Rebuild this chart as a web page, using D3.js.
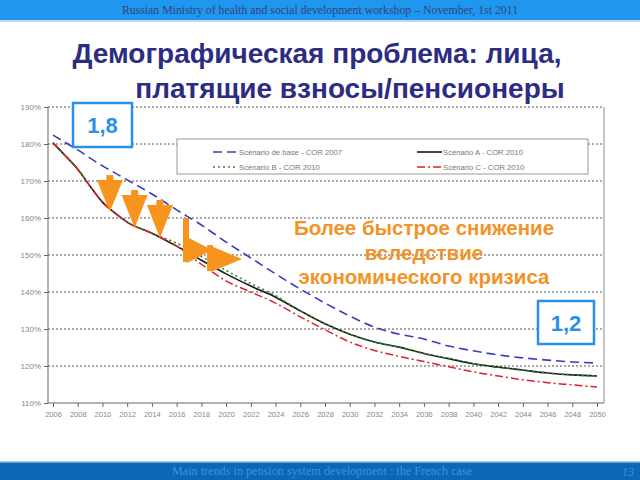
<!DOCTYPE html>
<html><head><meta charset="utf-8">
<script src="https://cdn.jsdelivr.net/npm/d3@7"></script>
<style>body{margin:0;background:#fff}svg{display:block}</style>
</head><body>
<script>
const years = [2006,2007,2008,2009,2010,2011,2012,2014,2016,2018,2020,2022,2024,2026,2028,2030,2032,2034,2036,2038,2040,2042,2044,2046,2048,2050];
const baseCOR2007 = [182.4,180.4,178.4,176.2,174.1,172.2,170.3,166.5,162.2,158.1,153.5,149.2,144.9,140.8,137.0,133.5,130.5,128.6,127.3,125.4,124.1,123.0,122.2,121.6,121.1,120.8];
const scenA = [180.3,176.8,173.2,168.6,164.3,161.4,158.9,155.9,152.4,148.6,144.9,141.6,138.6,134.9,131.4,128.6,126.5,125.1,123.4,122.0,120.6,119.7,118.9,118.1,117.6,117.3];
const scenB = [180.3,176.8,173.2,168.6,164.3,161.4,158.9,155.9,153.2,149.6,145.8,142.3,139.0,134.9,131.4,128.6,126.5,125.1,123.4,122.0,120.6,119.7,118.9,118.1,117.6,117.3];
const scenC = [180.3,176.8,173.2,168.6,164.3,161.4,158.9,155.9,152.4,147.5,143.0,140.0,137.0,133.3,129.8,126.5,124.2,122.6,121.2,119.8,118.4,117.3,116.3,115.5,114.9,114.3];
const xTickYears = d3.range(2006, 2051, 2);
const yTicks = [110,120,130,140,150,160,170,180,190];
const legendLabels = ["Scénario de base - COR 2007","Scénario A - COR 2010","Scénario B - COR 2010","Scénario C - COR 2010"];
const titleLines = ["Демографическая проблема: лица,","платящие взносы/пенсионеры"];
const noteLines = ["Более быстрое снижение","вследствие","экономического кризиса"];
const headerText = "Russian Ministry of health and social development workshop – November, 1st 2011";
const footerText = "Main trends in pension system development : the French case";
const pageNo = "13";
const startLabel = "1,8", endLabel = "1,2";

const W = 640, H = 480;
const svg = d3.select("body").append("svg").attr("width", W).attr("height", H);

// header / footer bars
svg.append("rect").attr("x",0).attr("y",0).attr("width",W).attr("height",20).attr("fill","#1f97ee");
svg.append("line").attr("x1",0).attr("x2",W).attr("y1",21).attr("y2",21).attr("stroke","#9fd0f5").attr("stroke-width",1.5);
svg.append("text").attr("x",320).attr("y",14).attr("text-anchor","middle")
  .attr("font-family","Liberation Serif, serif").attr("font-size",11.8).attr("fill","#34427a").text(headerText);
svg.append("rect").attr("x",0).attr("y",462).attr("width",W).attr("height",18).attr("fill","#0a68b6");
svg.append("line").attr("x1",0).attr("x2",W).attr("y1",462).attr("y2",462).attr("stroke","#7fb6e0").attr("stroke-width",1.5);
svg.append("text").attr("x",322).attr("y",475).attr("text-anchor","middle")
  .attr("font-family","Liberation Serif, serif").attr("font-size",12.2).attr("fill","#3d92e0").text(footerText);
svg.append("text").attr("x",628).attr("y",476).attr("text-anchor","middle").attr("font-style","italic")
  .attr("font-family","Liberation Serif, serif").attr("font-size",12).attr("fill","#3d92e0").text(pageNo);

// title
const titleFont = "Liberation Sans, Arial, sans-serif";
svg.append("text").attr("x",317).attr("y",63).attr("text-anchor","middle")
  .attr("font-family",titleFont).attr("font-weight","bold").attr("font-size",28)
  .attr("fill","#2b2c82").text(titleLines[0]);
svg.append("text").attr("x",350).attr("y",98).attr("text-anchor","middle")
  .attr("font-family",titleFont).attr("font-weight","bold").attr("font-size",28)
  .attr("fill","#2b2c82").text(titleLines[1]);

// scales
const x = d3.scaleLinear().domain([2006,2050]).range([53,597]);
const y = d3.scaleLinear().domain([110,190]).range([403,107]);
const left = 48, right = 604;

// gridlines
svg.append("g").selectAll("line").data(yTicks.filter(t=>t>110)).join("line")
  .attr("x1",left).attr("x2",right-2).attr("y1",d=>y(d)).attr("y2",d=>y(d))
  .attr("stroke","#555").attr("stroke-width",1).attr("stroke-dasharray","2,2");

// y axis
const yAxis = d3.axisLeft(y).tickValues(yTicks).tickSize(4).tickFormat(d=>d+"%");
const gy = svg.append("g").attr("transform",`translate(${left},0)`).call(yAxis);
gy.select(".domain").attr("stroke","#666").attr("d",`M0,${y(190)}V${y(110)}`);
gy.selectAll(".tick line").attr("stroke","#666");
gy.selectAll("text").attr("font-family","Liberation Sans, Arial, sans-serif").attr("font-size",8).attr("fill","#888").attr("x",-7);

// x axis
const xAxis = d3.axisBottom(x).tickValues(xTickYears).tickSize(4).tickFormat(d3.format("d"));
const gx = svg.append("g").attr("transform",`translate(0,${y(110)})`).call(xAxis);
gx.select(".domain").attr("stroke","#666").attr("d",`M${left},0H${right}`);
gx.selectAll(".tick line").attr("stroke","#666");
gx.selectAll("text").attr("font-family","Liberation Sans, Arial, sans-serif").attr("font-size",7.5).attr("fill","#888").attr("dy","0.9em");
// right frame
svg.append("line").attr("x1",right).attr("x2",right).attr("y1",y(190)).attr("y2",y(110)).attr("stroke","#888");

// series
const line = d3.line().x((d,i)=>x(years[i])).y(d=>y(d)).curve(d3.curveMonotoneX);
const series = [
  {v: baseCOR2007, c:"#3b3bbf", dash:"9,5", w:1.6},
  {v: scenA, c:"#1a1a1a", dash:null, w:1.6},
  {v: scenB, c:"#2e8b2e", dash:"2,3", w:1.6},
  {v: scenC, c:"#e0202a", dash:"8,3,2,3", w:1.5}
];
series.forEach(s=>{
  svg.append("path").datum(s.v).attr("d",line).attr("fill","none")
    .attr("stroke",s.c).attr("stroke-width",s.w).attr("stroke-dasharray",s.dash);
});

// legend
const lg = svg.append("g");
lg.append("rect").attr("x",177).attr("y",139).attr("width",411).attr("height",35).attr("fill","#fff").attr("stroke","#999");
const legendPos = [[213,152],[417,152],[213,167],[417,167]];
legendLabels.forEach((lab,i)=>{
  const [lx,ly] = legendPos[i];
  const s = series[i===1?1:(i===2?2:(i===3?3:0))];
  lg.append("line").attr("x1",lx).attr("x2",lx+25).attr("y1",ly).attr("y2",ly)
    .attr("stroke",s.c).attr("stroke-width",s.w).attr("stroke-dasharray",s.dash);
  lg.append("text").attr("x",lx+26).attr("y",ly+2.7).attr("font-family","Liberation Sans, Arial, sans-serif")
    .attr("font-size",7.7).attr("fill","#777").text(lab);
});

// annotation arrows (anchored to data coordinates)
const orange = "#f7941d";
const ann = svg.append("g").attr("fill",orange);
function downArrow(yr, val, len){
  const tx = x(yr), ty = y(val);
  ann.append("rect").attr("x",tx-3.5).attr("y",ty-len).attr("width",7).attr("height",6);
  ann.append("path").attr("d",`M${tx-13},${ty-len+5}L${tx+13},${ty-len+5}L${tx},${ty}Z`);
}
function bentArrow(yr, val, barH, off){
  const tx = x(yr), ty = y(val);
  const bx = tx - off;
  ann.append("rect").attr("x",bx).attr("y",ty-barH).attr("width",6).attr("height",barH+12);
  ann.append("path").attr("d",`M${bx+4},${ty-13}L${bx+4},${ty+13}L${tx},${ty}Z`);
}
downArrow(2010.6, 161.6, 37);
downArrow(2012.6, 157.3, 38);
downArrow(2014.65, 154.6, 38);
bentArrow(2018.86, 151.35, 32, 29);
bentArrow(2021.29, 148.9, 14, 35);

// note text
const note = svg.append("g").attr("font-family","Liberation Sans, Arial, sans-serif").attr("font-weight","bold")
  .attr("font-size",20.5).attr("fill","#f29327").attr("text-anchor","middle");
noteLines.forEach((t,i)=>note.append("text").attr("x",424).attr("y",235+i*24.5).text(t));

// value boxes
function valueBox(bx,by,bw,bh,txt){
  svg.append("rect").attr("x",bx).attr("y",by).attr("width",bw).attr("height",bh)
    .attr("fill","#fff").attr("stroke","#2a8fe6").attr("stroke-width",2.5);
  svg.append("text").attr("x",bx+bw/2).attr("y",by+bh/2+8).attr("text-anchor","middle")
    .attr("font-family","Liberation Sans, Arial, sans-serif").attr("font-weight","bold").attr("font-size",22)
    .attr("fill","#2a8fe6").text(txt);
}
valueBox(73,103,59,44,startLabel);
valueBox(538,301,56,43,endLabel);
</script>
</body></html>
